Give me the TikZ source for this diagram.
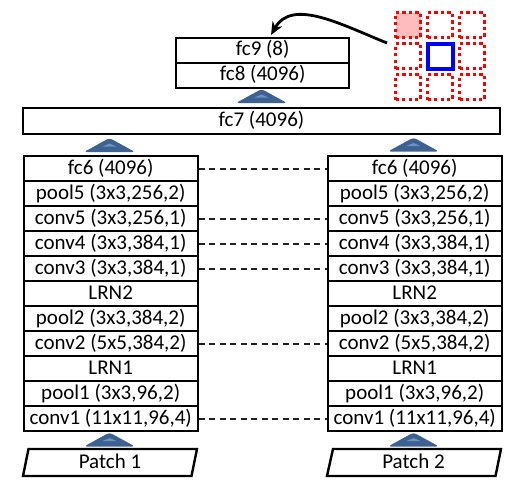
\documentclass[tikz,border=0pt]{standalone}
\usepackage{fontspec}
\setmainfont{Carlito}
\usetikzlibrary{arrows.meta,calc}
\definecolor{triblue}{HTML}{3D6291}
\definecolor{trilight}{HTML}{6E92C2}
\definecolor{pinkfill}{HTML}{FFBCBC}
\definecolor{dashgray}{HTML}{222222}
\begin{document}
\begin{tikzpicture}[x=1pt,y=-1pt,
  txt/.style={font=\fontsize{21}{24}\selectfont, text height=15pt, text depth=4pt, inner sep=0pt},
  layer/.style={txt, draw, line width=2.4pt, minimum width=174pt, minimum height=25pt, anchor=north west},
  fcbox/.style={txt, draw, line width=2.4pt, minimum width=173pt, minimum height=24.5pt, anchor=north west},
  dashline/.style={dashgray, line width=2pt, dash pattern=on 6pt off 4.5pt},
  cell/.style={minimum size=25pt, inner sep=0pt, anchor=north west},
  redcell/.style={cell, draw=red, line width=3.2pt, dash pattern=on 3.2pt off 3.3pt},
  pinkcell/.style={redcell, fill=pinkfill},
  bluecell/.style={cell, draw=blue, line width=3.8pt},
  uptri/.pic={
    \fill[triblue, rounded corners=3pt] (0,0) -- (25.5,0) -- (0,-14) -- (-25.5,0) -- cycle;
    \fill[trilight] (-7,-5.5) -- (7,-5.5) -- (0,-8.5) -- cycle;
  }]
\useasboundingbox (0,0) rectangle (530,491);

% two towers
\foreach \t [count=\i from 0] in {{fc6 (4096)},{pool5 (3x3,256,2)},{conv5 (3x3,256,1)},{conv4 (3x3,384,1)},{conv3 (3x3,384,1)},{LRN2},{pool2 (3x3,384,2)},{conv2 (5x5,384,2)},{LRN1},{pool1 (3x3,96,2)},{conv1 (11x11,96,4)}}{
  \node[layer] (L\i) at (22.5,155+25*\i) {\t};
  \node[layer] (R\i) at (326.5,155+25*\i) {\t};
}
\foreach \i in {0,2,3,4,7,10}{
  \draw[dashline] (L\i.east) -- (R\i.west);
}

% top
\node[layer, minimum width=477pt, minimum height=26pt, line width=2pt] (fc7) at (22,107) {fc7 (4096)};
\node[fcbox] (fc9) at (175,37) {fc9 (8)};
\node[fcbox, minimum height=25pt] (fc8) at (175,61.5) {fc8 (4096)};

% arrows (triangles)
\pic at (261.5,103) {uptri};
\pic at (109.5,152) {uptri};
\pic at (413.5,151.5) {uptri};
\pic at (109.5,446.5) {uptri};
\pic at (413.5,446.5) {uptri};

% patches
\draw[line width=2.4pt] (28.5,449) -- (197,449) -- (191.5,476) -- (23,476) -- cycle;
\node[txt] (P1) at (110,462.5) {Patch 1};
\draw[line width=2.4pt] (333,449) -- (501,449) -- (495.5,476) -- (327,476) -- cycle;
\node[txt] (P2) at (413.5,462.5) {Patch 2};

% grid
\foreach \c/\r/\s in {0/0/pinkcell,1/0/redcell,2/0/redcell,0/1/redcell,1/1/bluecell,2/1/redcell,0/2/redcell,1/2/redcell,2/2/redcell}{
  \node[\s] (g\c\r) at (394+32*\c, 11+31*\r) {};
}

% curved arrow
\coordinate (tail) at (387,43);
\coordinate (tip) at (271,35);
\draw[line width=2.8pt, -{Stealth[length=13pt,width=11pt]}] (tail) .. controls (340,24) and (292,-2) .. (tip);
\end{tikzpicture}
\end{document}
